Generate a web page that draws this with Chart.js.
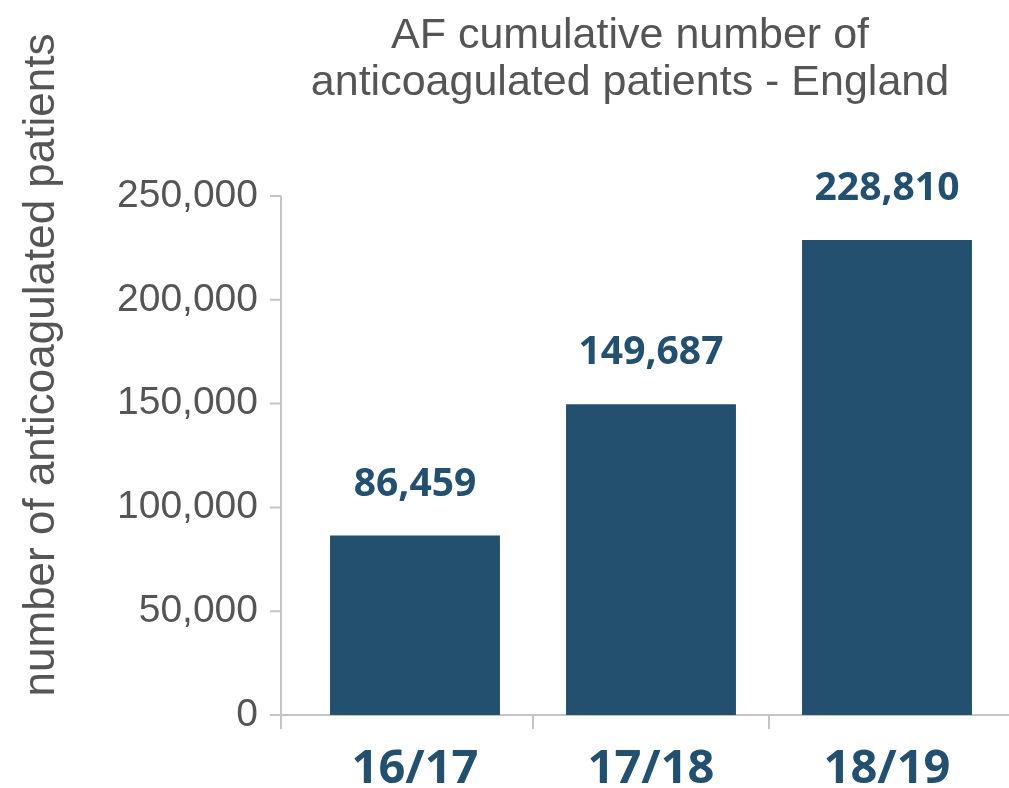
<!DOCTYPE html>
<html>
<head>
<meta charset="utf-8">
<script src="https://cdn.jsdelivr.net/npm/chart.js@4/dist/chart.umd.min.js"></script>
<style>
html,body{margin:0;padding:0;background:#fff;}
#wrap{width:1009px;height:788px;position:relative;}
</style>
</head>
<body>
<div id="wrap"><canvas id="c" width="1009" height="788"></canvas></div>
<script>
const categories = ["16/17", "17/18", "18/19"];
const patients = [86459, 149687, 228810];
const yTicks = [0, 50000, 100000, 150000, 200000, 250000];
const titleLines = ["AF cumulative number of", "anticoagulated patients - England"];
const yTitle = "number of anticoagulated patients";

const BAR = "#23506e";
const GREY = "#555555";
const AXIS = "#c4c4c4";

const fmt = v => v.toLocaleString("en-GB");

const decor = {
  id: "decor",
  beforeDatasetsDraw(chart) {
    const ctx = chart.ctx, ca = chart.chartArea;
    const y = chart.scales.y, x = chart.scales.x;
    const ax = ca.left - 16;
    ctx.save();
    ctx.strokeStyle = AXIS;
    ctx.lineWidth = 2;
    ctx.beginPath();
    ctx.moveTo(ax, y.getPixelForValue(yTicks[yTicks.length - 1]));
    ctx.lineTo(ax, y.getPixelForValue(0));
    yTicks.forEach(t => {
      const py = y.getPixelForValue(t);
      ctx.moveTo(ax - 11, py);
      ctx.lineTo(ax, py);
    });
    const y0 = y.getPixelForValue(0);
    ctx.moveTo(ax - 11, y0);
    ctx.lineTo(chart.width, y0);
    ctx.moveTo(ax, y0);
    ctx.lineTo(ax, y0 + 14);
    for (let i = 1; i < categories.length; i++) {
      const px = (x.getPixelForValue(i - 1) + x.getPixelForValue(i)) / 2;
      ctx.moveTo(px, y0);
      ctx.lineTo(px, y0 + 14);
    }
    ctx.stroke();
    ctx.restore();
  },
  afterDatasetsDraw(chart) {
    const ctx = chart.ctx;
    ctx.save();
    ctx.fillStyle = BAR;
    ctx.font = "700 39px 'Open Sans'";
    ctx.textAlign = "center";
    ctx.textBaseline = "middle";
    chart.getDatasetMeta(0).data.forEach((bar, i) => {
      ctx.fillText(fmt(patients[i]), bar.x, bar.y - 51);
    });
    ctx.fillStyle = GREY;
    ctx.font = "43px 'Liberation Sans'";
    ctx.textBaseline = "alphabetic";
    ctx.fillText(titleLines[0], 630, 48);
    ctx.fillText(titleLines[1], 630, 95);
    ctx.textBaseline = "middle";
    ctx.font = "44px 'Liberation Sans'";
    ctx.translate(42, 365);
    ctx.rotate(-Math.PI / 2);
    ctx.fillText(yTitle, 0, 0);
    ctx.restore();
  }
};

new Chart(document.getElementById("c"), {
  type: "bar",
  data: {
    labels: categories,
    datasets: [{
      data: patients,
      backgroundColor: BAR,
      borderWidth: 0,
      barPercentage: 0.72,
      categoryPercentage: 1.0
    }]
  },
  options: {
    responsive: false,
    animation: false,
    devicePixelRatio: 1,
    layout: { padding: { top: 196, right: 4, left: 0, bottom: 0 } },
    plugins: { legend: { display: false }, tooltip: { enabled: false }, title: { display: false } },
    scales: {
      y: {
        min: 0, max: 250000,
        afterBuildTicks: s => { s.ticks = yTicks.map(v => ({ value: v })); },
        afterFit: s => { s.width = 297; },
        grid: { display: false, drawTicks: false },
        border: { display: false },
        ticks: {
          padding: 39,
          color: GREY,
          font: { family: "'Liberation Sans'", size: 39 },
          callback: v => fmt(v)
        }
      },
      x: {
        afterFit: s => { s.height = 73; },
        grid: { display: false, drawTicks: false },
        border: { display: false },
        ticks: {
          padding: 26,
          color: BAR,
          font: { family: "'Open Sans'", size: 47, weight: "700" }
        }
      }
    }
  },
  plugins: [decor]
});
</script>
</body>
</html>
